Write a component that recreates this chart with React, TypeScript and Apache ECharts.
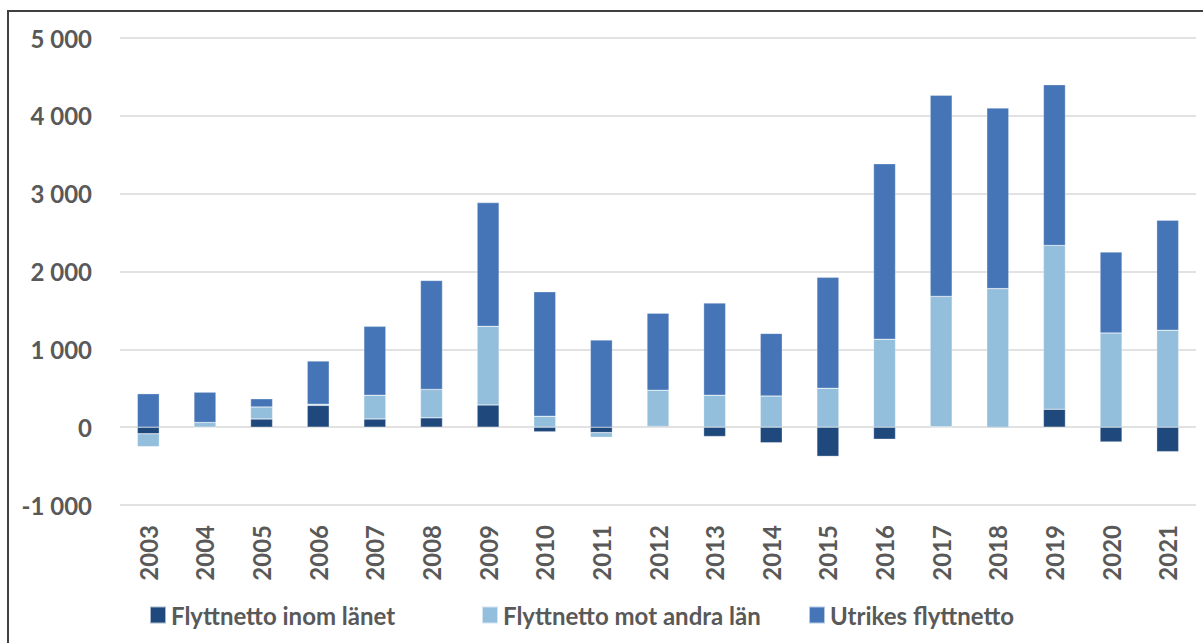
import React, { useEffect, useRef } from "react";
import * as echarts from "echarts";

const years = ["2003","2004","2005","2006","2007","2008","2009","2010","2011","2012","2013","2014","2015","2016","2017","2018","2019","2020","2021"];
const inomLanet = [-85, 0, 105, 280, 105, 120, 285, -60, -70, 10, -120, -200, -375, -155, 5, -10, 230, -190, -315];
const motAndraLan = [-165, 60, 155, 15, 305, 365, 1010, 140, -60, 465, 410, 400, 500, 1130, 1675, 1780, 2105, 1210, 1245];
const utrikes = [430, 390, 105, 555, 885, 1400, 1590, 1600, 1120, 990, 1185, 805, 1425, 2255, 2585, 2320, 2065, 1040, 1415];

const names = ["Flyttnetto inom länet", "Flyttnetto mot andra län", "Utrikes flyttnetto"];
const colors = ["#1F497D", "#93BEDC", "#4575B6"];
const legendLeft = [144, 476, 803];
const FONT = "Lato";
const TXT = "#595959";

export default function App() {
  const ref = useRef<HTMLDivElement>(null);
  useEffect(() => {
    const chart = echarts.init(ref.current!, null, { renderer: "svg" });
    const mk = (name: string, data: number[], color: string) => ({
      name,
      type: "bar",
      stack: "total",
      data,
      barWidth: 22,
      itemStyle: { color, borderColor: "rgba(255,255,255,0.6)", borderWidth: 0.5 },
    });
    chart.setOption({
      animation: false,
      textStyle: { fontFamily: FONT },
      grid: { left: 120, right: 7, top: 38, bottom: 138 },
      legend: names.map((n, i) => ({
        bottom: 11,
        left: legendLeft[i],
        itemWidth: 16,
        itemHeight: 17,
        icon: "rect",
        textStyle: { fontFamily: FONT, fontSize: 24, fontWeight: "bold", color: TXT },
        data: [n],
      })),
      xAxis: {
        type: "category",
        data: years,
        axisLine: { show: false },
        axisTick: { show: false },
        axisLabel: { rotate: 90, fontFamily: FONT, fontSize: 24, fontWeight: "bold", color: TXT, margin: 20 },
      },
      yAxis: {
        type: "value",
        min: -1000,
        max: 5000,
        interval: 1000,
        axisLine: { show: false },
        axisTick: { show: false },
        splitLine: { lineStyle: { color: "#D9D9D9", width: 1.5 } },
        axisLabel: {
          fontFamily: FONT,
          fontSize: 24,
          fontWeight: "bold",
          color: TXT,
          margin: 28,
          formatter: (v: number) => {
            const s = Math.abs(v).toString().replace(/\B(?=(\d{3})+(?!\d))/g, " ");
            return (v < 0 ? "-" : "") + s;
          },
        },
      },
      graphic: [
        {
          type: "rect",
          shape: { x: 8, y: 11, width: 1300, height: 700 },
          style: { fill: "none", stroke: "#404040", lineWidth: 2 },
          silent: true,
        },
      ],
      series: [
        mk(names[0], inomLanet, colors[0]),
        mk(names[1], motAndraLan, colors[1]),
        mk(names[2], utrikes, colors[2]),
      ],
    });
    return () => chart.dispose();
  }, []);
  return (
    <div
      ref={ref}
      style={{ position: "fixed", left: 0, top: 0, width: 1203, height: 643, background: "#fff" }}
    />
  );
}
